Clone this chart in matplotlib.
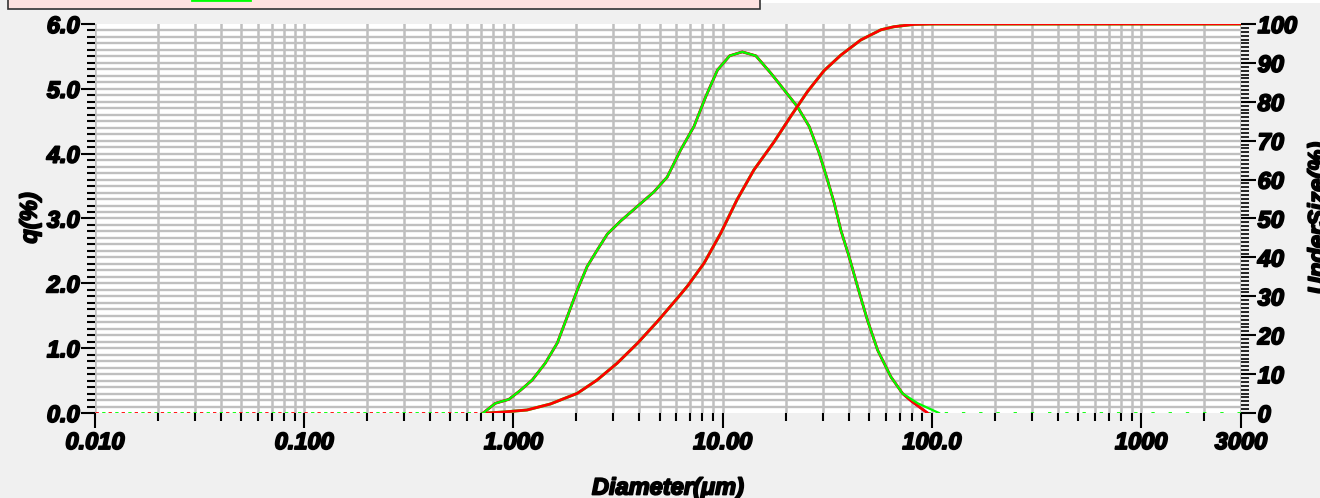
import numpy as np
import matplotlib
matplotlib.use("Agg")
import matplotlib.pyplot as plt
import matplotlib.patheffects as pe
from matplotlib.patches import Rectangle
from matplotlib.ticker import FixedLocator, FixedFormatter, MultipleLocator

# frequency curve q(%)
diam_q = [0.716, 0.820, 0.950, 1.08, 1.23, 1.42, 1.62, 1.81, 2.02, 2.25, 2.51,
          2.81, 3.25, 4.05, 4.69, 5.43, 6.30, 7.29, 8.30, 9.44, 10.8, 12.4,
          14.4, 17.0, 19.7, 22.8, 25.9, 28.9, 31.7, 34.1, 36.7, 40.2, 44.1,
          49.2, 55.0, 63.6, 72.4, 85.5, 108.0]
q_green = [0.0, 0.15, 0.21, 0.35, 0.51, 0.77, 1.08, 1.49, 1.90, 2.26, 2.51,
           2.76, 2.96, 3.23, 3.41, 3.64, 4.06, 4.42, 4.88, 5.29, 5.51, 5.57,
           5.51, 5.24, 4.98, 4.72, 4.42, 4.01, 3.59, 3.24, 2.82, 2.41, 1.95,
           1.43, 0.97, 0.56, 0.30, 0.15, 0.0]
# red / blue runs sit under the green one, red stops a bit earlier
diam_q_red = diam_q[:-2] + [80.0, 95.3]
q_red = q_green[:-2] + [0.18, 0.0]

# cumulative undersize (%)
diam_u = [0.751, 0.899, 1.16, 1.50, 2.02, 2.51, 3.13, 3.91, 4.87, 6.07, 6.78,
          8.14, 9.78, 11.7, 14.1, 17.6, 21.1, 25.4, 30.5, 36.7, 45.7, 57.0,
          65.8, 82.0, 100.0, 3000.0]
undersize = [0.0, 0.26, 0.77, 2.31, 5.06, 8.48, 12.8, 17.9, 23.5, 29.5, 32.6,
             38.5, 46.2, 54.8, 62.5, 69.7, 76.2, 82.6, 88.0, 92.0, 95.9, 98.5,
             99.3, 99.9, 100.0, 100.0]

x_ticks = [0.01, 0.1, 1, 10, 100, 1000, 3000]
x_labels = ["0.010", "0.100", "1.000", "10.00", "100.0", "1000", "3000"]

W, H = 1320, 498
fig = plt.figure(figsize=(W / 100, H / 100), dpi=100, facecolor="#f0f0f0")
ax = fig.add_axes([95 / W, 1 - 413 / H, (1241 - 95) / W, (413 - 24) / H])
ax2 = ax.twinx()

font = dict(family="Liberation Sans", weight="bold", style="italic", size=17)
heavy = [pe.withStroke(linewidth=1.3, foreground="black")]
grid_c = "#bfbfbf"

ax.set_xscale("log")
ax.set_xlim(0.01, 3000)
ax.set_ylim(0, 6)
ax2.set_ylim(0, 100)

# grid by hand so it stays under the curves
minors = [m * 10.0 ** e for e in range(-2, 4) for m in range(1, 10)]
minors = [v for v in minors if 0.01 <= v <= 3000] + [3000]
for v in minors:
    ax.axvline(v, color=grid_c, lw=1.8, zorder=0)
for yv in np.arange(0.1, 6.0, 0.1):
    ax.axhline(yv, color=grid_c, lw=1.7, zorder=0)

# baseline dots outside the measured range
ax.plot([0.01, 0.72], [0, 0], color="red", lw=2.0, ls=(0, (1.2, 3.5)), zorder=2)
ax.plot([0.01, 0.72], [0, 0], color="#00ff00", lw=2.0, ls=(2.3, (1.2, 3.5)), zorder=2)
ax.plot([95, 3000], [0, 0], color="#00ff00", lw=2.0, ls=(0, (1.2, 5)), zorder=2)

ax.plot(diam_q_red, q_red, color="blue", lw=1.6, zorder=3)
ax.plot(diam_q_red, q_red, color="red", lw=2.0, zorder=4)
ax.plot(diam_q, q_green, color="#00ff00", lw=1.6, zorder=5)

ax2.plot(diam_u, undersize, color="#00ff00", lw=2.1, zorder=3)
ax2.plot(diam_u, undersize, color="red", lw=2.0, zorder=4)

ax.set_zorder(ax2.get_zorder() - 1)
ax2.patch.set_visible(False)
ax.set_facecolor("white")

for a in (ax, ax2):
    for s in a.spines.values():
        s.set_visible(False)

ax.xaxis.set_major_locator(FixedLocator(x_ticks))
ax.xaxis.set_major_formatter(FixedFormatter(x_labels))
ax.xaxis.set_minor_locator(FixedLocator([v for v in minors if v not in x_ticks]))
ax.xaxis.set_minor_formatter(FixedFormatter([]))
ax.yaxis.set_major_locator(MultipleLocator(1.0))
ax.yaxis.set_minor_locator(MultipleLocator(0.1))
ax.yaxis.set_major_formatter(matplotlib.ticker.FormatStrFormatter("%.1f"))
ax2.yaxis.set_major_locator(MultipleLocator(10))
ax2.yaxis.set_minor_locator(MultipleLocator(1))

ax.tick_params(axis="x", which="major", direction="out", length=11, width=1.5, pad=2)
ax.tick_params(axis="x", which="minor", direction="out", length=6, width=1.5)
ax.tick_params(axis="y", which="major", direction="out", length=10, width=1.5, pad=1)
ax.tick_params(axis="y", which="minor", direction="out", length=6, width=1.5)
ax2.tick_params(axis="y", which="major", direction="out", length=11, width=1.5, pad=1)
ax2.tick_params(axis="y", which="minor", direction="out", length=6, width=1.2)

for lab in ax.get_xticklabels() + ax.get_yticklabels() + ax2.get_yticklabels():
    lab.set_fontproperties(matplotlib.font_manager.FontProperties(**font))
    lab.set_path_effects(heavy)

fig.text(30 / W, 1 - 218 / H, "q(%)", rotation=90, ha="center", va="center",
         path_effects=heavy, **font)
fig.text(1318 / W, 1 - 218 / H, "UnderSize(%)", rotation=90, ha="center",
         va="center", path_effects=heavy, **font)
fig.text(668 / W, 1 - 488 / H, "Diameter(μm)", ha="center", va="center",
         path_effects=heavy, **font)

# legend panel cut by the top edge
fig.patches.append(Rectangle((760 / W, 1 - 3 / H), 1 - 760 / W, 3 / H,
                             transform=fig.transFigure, facecolor="white",
                             edgecolor="none"))
fig.patches.append(Rectangle((8 / W, 1 - 9 / H), 752 / W, 20 / H,
                             transform=fig.transFigure, facecolor="#ffe2df",
                             edgecolor="#333333", lw=1.2))
fig.lines.append(plt.Line2D([192 / W, 250 / W], [1 - 0.5 / H, 1 - 0.5 / H],
                            transform=fig.transFigure, color="#00ff00", lw=2.0))

fig.savefig("out.png", dpi=100, facecolor=fig.get_facecolor())
